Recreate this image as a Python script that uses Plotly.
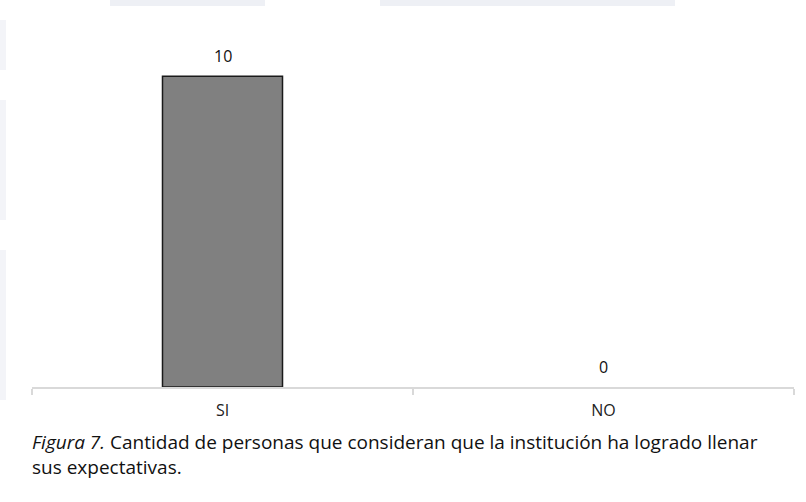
import plotly.graph_objects as go

categories = ["SI", "NO"]
values = [10, 0]
caption_italic = "Figura 7."
caption_rest = " Cantidad de personas que consideran que la institución ha logrado llenar<br>sus expectativas."

FONT = "Liberation Sans Narrow, Open Sans, Noto Sans, sans-serif"

fig = go.Figure()
fig.add_trace(go.Bar(
    x=categories, y=values,
    marker=dict(color="#808080",
                line=dict(color="#1a1a1a", width=[1.5 if v > 0 else 0 for v in values])),
    width=0.315,
    hoverinfo="skip",
))

for c, v in zip(categories, values):
    fig.add_annotation(x=c, y=v, text=str(v), showarrow=False,
                       yanchor="bottom", yshift=7,
                       font=dict(family=FONT, size=16, color="#111111"))

fig.add_annotation(xref="paper", yref="paper", x=-0.003, y=-0.18,
                   xanchor="left", yanchor="middle", align="left",
                   text="<i>" + caption_italic + "</i>" + caption_rest,
                   showarrow=False,
                   font=dict(family=FONT, size=19, color="#111111"))

# plot area: x 32..794 px, y 14..387 px
def px(x):
    return (x - 32) / 762.0

def py(y):
    return (387 - y) / 373.0

wm = "#eef0f5"
for (xa, xb) in [(110, 265), (380, 675)]:
    fig.add_shape(type="rect", xref="paper", yref="paper", layer="below",
                  x0=px(xa), x1=px(xb), y0=py(6), y1=py(0),
                  fillcolor=wm, line=dict(width=0))
for (ya, yb) in [(20, 70), (100, 220), (250, 400)]:
    fig.add_shape(type="rect", xref="paper", yref="paper", layer="below",
                  x0=px(0), x1=px(6), y0=py(yb), y1=py(ya),
                  fillcolor="#f3f4f8", line=dict(width=0))

fig.update_layout(
    width=806, height=502,
    margin=dict(l=32, r=12, t=14, b=115),
    paper_bgcolor="white", plot_bgcolor="white",
    showlegend=False,
    font=dict(family=FONT, size=16, color="#222222"),
    xaxis=dict(showline=True, linecolor="#d9d9d9", linewidth=1.5,
               ticks="outside", tickson="boundaries", ticklen=6,
               tickcolor="#d9d9d9", tickwidth=1.5,
               ticklabelstandoff=8,
               tickfont=dict(family=FONT, size=16, color="#222222"),
               showgrid=False, fixedrange=True, automargin=False),
    yaxis=dict(range=[0, 12], visible=False, showgrid=False, fixedrange=True),
    bargap=0.685,
)

fig.write_html("out.html", config={"displayModeBar": False},
               post_script="document.body.style.margin='0';")
